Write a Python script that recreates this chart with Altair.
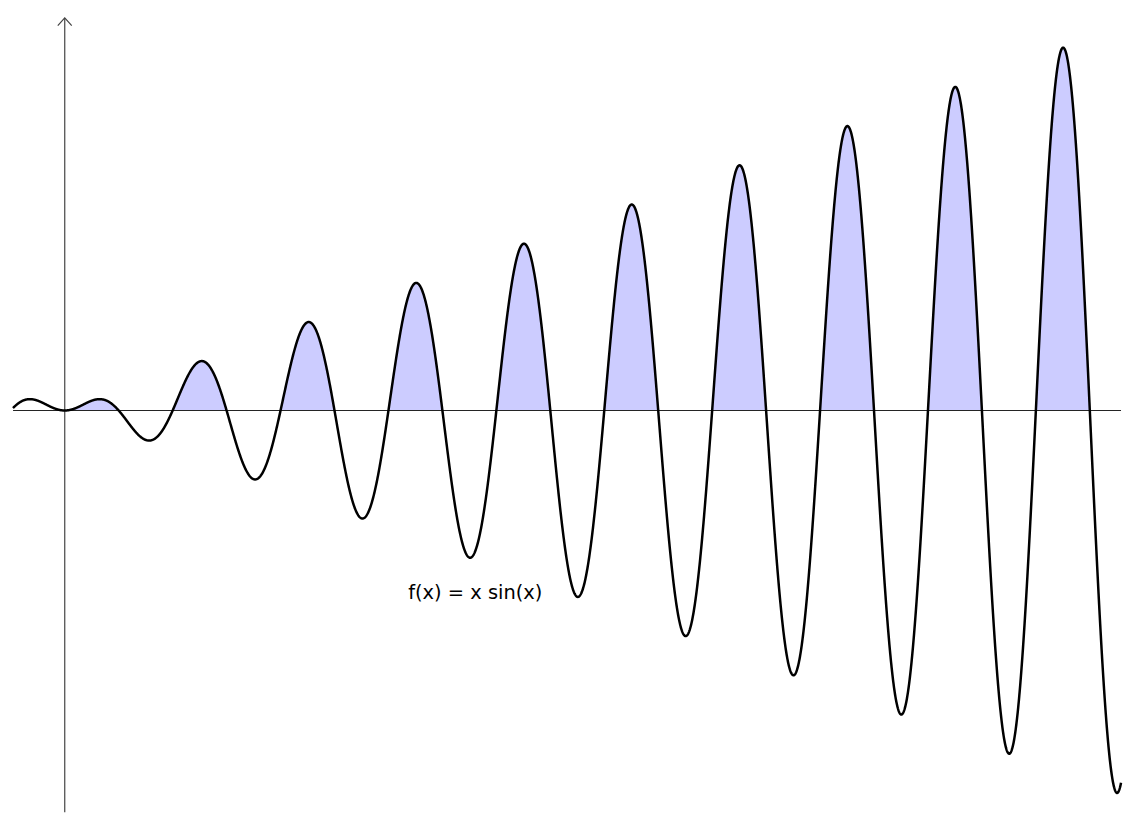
import math
import numpy as np
import altair as alt
import pandas as pd

# ---- data / parameters ----
FUNC_LABEL = ["f(x) = x sin(x)"]
LABEL_POS_X = [20.0]
LABEL_POS_Y = [-30.2]
CURVE_START = [-3.01]                  # curve starts just left of the origin
SHADE_RANGE = [0.0, 19 * math.pi]      # shaded (positive) part, 0 .. 19π
Y_AXIS_TOP = [62.9]

# ---- scales: pixels per unit ----
W, H = 1112, 806
SX, SY = 17.25, 6.27
X0PX, Y0PX = 51.0, 402.5
XMIN = -X0PX / SX
XMAX = XMIN + W / SX
YMAX = Y0PX / SY
YMIN = YMAX - H / SY


def X(field):
    return alt.X(field, scale=alt.Scale(domain=[XMIN, XMAX], nice=False, zero=False), axis=None)


def Y(field):
    return alt.Y(field, scale=alt.Scale(domain=[YMIN, YMAX], nice=False, zero=False), axis=None)


# sampling grids (function is evaluated by Vega via the label's formula)
curve_df = pd.DataFrame({"x": np.linspace(CURVE_START[0], XMAX, 4000)})
shade_df = pd.DataFrame({"x": np.linspace(SHADE_RANGE[0], SHADE_RANGE[1], 4000)})

curve = (
    alt.Chart(curve_df)
    .transform_calculate(y="datum.x * sin(datum.x)")
    .mark_line(color="black", strokeWidth=2.5)
    .encode(x=X("x:Q"), y=Y("y:Q"))
)

shade = (
    alt.Chart(shade_df)
    .transform_calculate(y="max(datum.x * sin(datum.x), 0)", base="0")
    .mark_area(color="#ccccff", opacity=1)
    .encode(x=X("x:Q"), y=Y("y:Q"), y2="base:Q")
)

xaxis_df = pd.DataFrame({"x": CURVE_START, "x2": [XMAX], "y": [0.0]})
xaxis = (
    alt.Chart(xaxis_df)
    .mark_rule(color="#222222", strokeWidth=1)
    .encode(x=X("x:Q"), x2="x2:Q", y=Y("y:Q"))
)

yaxis_df = pd.DataFrame({"x": [0.0], "y": [YMIN], "y2": Y_AXIS_TOP})
yaxis = (
    alt.Chart(yaxis_df)
    .mark_rule(color="#444444", strokeWidth=1.2)
    .encode(x=X("x:Q"), y=Y("y:Q"), y2="y2:Q")
)

arrow_df = pd.DataFrame({"x": [0.0], "y": Y_AXIS_TOP})
arrow = (
    alt.Chart(arrow_df)
    .mark_point(shape="M-1,1.1L0,0L1,1.1", size=196, filled=False,
                color="#444444", strokeWidth=1.2, opacity=1)
    .encode(x=X("x:Q"), y=Y("y:Q"))
)

label_df = pd.DataFrame({"x": LABEL_POS_X, "y": LABEL_POS_Y, "t": FUNC_LABEL})
label = (
    alt.Chart(label_df)
    .mark_text(align="left", baseline="alphabetic", font="DejaVu Sans",
               fontSize=19.5, color="black")
    .encode(x=X("x:Q"), y=Y("y:Q"), text="t:N")
)

chart = (
    alt.layer(shade, xaxis, yaxis, arrow, curve, label)
    .properties(width=W, height=H, padding=0, background="white")
    .configure_view(strokeWidth=0)
)

chart.save("out.html", embed_options={"renderer": "svg", "actions": False})
